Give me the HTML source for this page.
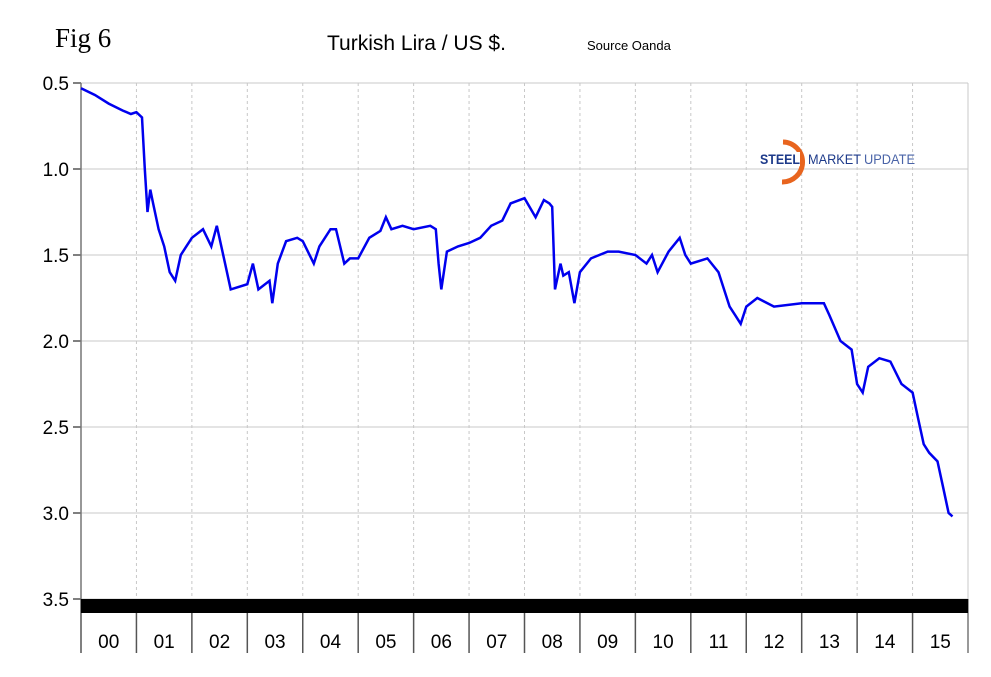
<!DOCTYPE html>
<html><head><meta charset="utf-8"><style>
body{margin:0;background:#fff;width:991px;height:677px;overflow:hidden}
svg{display:block;font-family:"Liberation Sans",sans-serif}
</style></head><body>
<svg id="chart" width="991" height="677">
<text x="55" y="47" font-family="Liberation Serif" font-size="27">Fig 6</text>
<text x="327" y="50" font-size="21">Turkish Lira / US $.</text>
<text x="587" y="50" font-size="13">Source Oanda</text>
<g id="grid"></g>
<g id="logo">
<path d="M783 142 A19 19 0 1 1 782 182" fill="none" stroke="#e8641e" stroke-width="5"/>
<rect x="760" y="152" width="40" height="14" fill="#fff"/>
<text x="760" y="164" font-size="14" font-weight="bold" fill="#1d3a8a" textLength="40" lengthAdjust="spacingAndGlyphs">STEEL</text>
<text x="808" y="164" font-size="14" fill="#1d3a8a" textLength="53" lengthAdjust="spacingAndGlyphs">MARKET</text>
<text x="864" y="164" font-size="14" fill="#4a64a8" textLength="51" lengthAdjust="spacingAndGlyphs">UPDATE</text>
</g>
<g id="axes"></g>
<path id="line" fill="none" stroke="#0000ee" stroke-width="2.5"/>
</svg>
<script>
const yTicks=[0.5,1.0,1.5,2.0,2.5,3.0,3.5];
const years=["00","01","02","03","04","05","06","07","08","09","10","11","12","13","14","15"];
const times=[2000.0,2000.25,2000.5,2000.75,2000.9,2001.0,2001.1,2001.15,2001.2,2001.25,2001.3,2001.4,2001.5,2001.6,2001.7,2001.8,2001.9,2002.0,2002.2,2002.35,2002.45,2002.6,2002.7,2003.0,2003.1,2003.2,2003.4,2003.45,2003.55,2003.7,2003.9,2004.0,2004.2,2004.3,2004.5,2004.6,2004.75,2004.85,2005.0,2005.2,2005.4,2005.5,2005.6,2005.8,2006.0,2006.3,2006.4,2006.45,2006.5,2006.6,2006.8,2007.0,2007.2,2007.4,2007.6,2007.75,2008.0,2008.2,2008.35,2008.45,2008.5,2008.55,2008.65,2008.7,2008.8,2008.9,2009.0,2009.2,2009.5,2009.7,2010.0,2010.2,2010.3,2010.4,2010.6,2010.8,2010.9,2011.0,2011.3,2011.5,2011.7,2011.8,2011.9,2012.0,2012.2,2012.5,2013.0,2013.4,2013.5,2013.7,2013.9,2014.0,2014.1,2014.2,2014.4,2014.6,2014.8,2015.0,2015.1,2015.2,2015.3,2015.45,2015.55,2015.65,2015.72];
const rates=[0.53,0.57,0.62,0.66,0.68,0.67,0.70,1.0,1.25,1.12,1.20,1.35,1.45,1.6,1.65,1.5,1.45,1.4,1.35,1.45,1.33,1.55,1.7,1.67,1.55,1.70,1.65,1.78,1.55,1.42,1.40,1.42,1.55,1.45,1.35,1.35,1.55,1.52,1.52,1.40,1.36,1.28,1.35,1.33,1.35,1.33,1.35,1.55,1.70,1.48,1.45,1.43,1.40,1.33,1.30,1.20,1.17,1.28,1.18,1.20,1.22,1.70,1.55,1.62,1.60,1.78,1.60,1.52,1.48,1.48,1.5,1.55,1.50,1.60,1.48,1.40,1.5,1.55,1.52,1.6,1.8,1.85,1.90,1.80,1.75,1.80,1.78,1.78,1.85,2.0,2.05,2.25,2.30,2.15,2.10,2.12,2.25,2.30,2.45,2.6,2.65,2.70,2.85,3.0,3.02];
const L=81,R=968,T=83,B=599;
const x=t=>L+(t-2000)*(R-L)/16;
const y=v=>T+(v-0.5)*(B-T)/3;
const NS="http://www.w3.org/2000/svg";
function mk(tag,at,parent){const e=document.createElementNS(NS,tag);for(const k in at)e.setAttribute(k,at[k]);parent.appendChild(e);return e;}
const grid=document.getElementById('grid'),axes=document.getElementById('axes');
yTicks.forEach(v=>{
 const g=mk('line',{x1:L-8,x2:R,y1:y(v),y2:y(v),stroke:'#c8c8c8'},grid);
 
 
 const tk=mk('line',{x1:L-8,x2:L,y1:y(v),y2:y(v),stroke:'#555','stroke-width':1.5},axes);
 
 
 const t=mk('text',{x:L-12,y:y(v)+7,'text-anchor':'end','font-size':19},axes);
 t.textContent=v.toFixed(1);
 
 
});
years.forEach((s,i)=>{
 if(i>0){const g=mk('line',{x1:x(2000+i),x2:x(2000+i),y1:T,y2:B,stroke:'#c8c8c8','stroke-dasharray':'3,3'},grid);
 
 }
 const sep=mk('line',{x1:x(2000+i),x2:x(2000+i),y1:B,y2:653,stroke:'#555','stroke-width':1.5},axes);
 
 
 const t=mk('text',{x:x(2000+i+0.5),y:648,'text-anchor':'middle','font-size':19},axes);
 t.textContent=s;
 
 
});
const endSep=mk('line',{x1:R,x2:R,y1:B,y2:653,stroke:'#777','stroke-width':1.5},axes);


const ya=mk('line',{x1:L,x2:L,y1:T,y2:B,stroke:'#777','stroke-width':1.5},axes);


const rb=mk('line',{x1:R,x2:R,y1:T,y2:B,stroke:'#c8c8c8'},axes);


const bar=mk('rect',{x:L,y:B,width:R-L,height:14,fill:'#000'},axes);


document.getElementById('line').setAttribute('d',times.map((t,i)=>(i?'L':'M')+x(t).toFixed(1)+' '+y(rates[i]).toFixed(1)).join(' '));
</script>
</body></html>
